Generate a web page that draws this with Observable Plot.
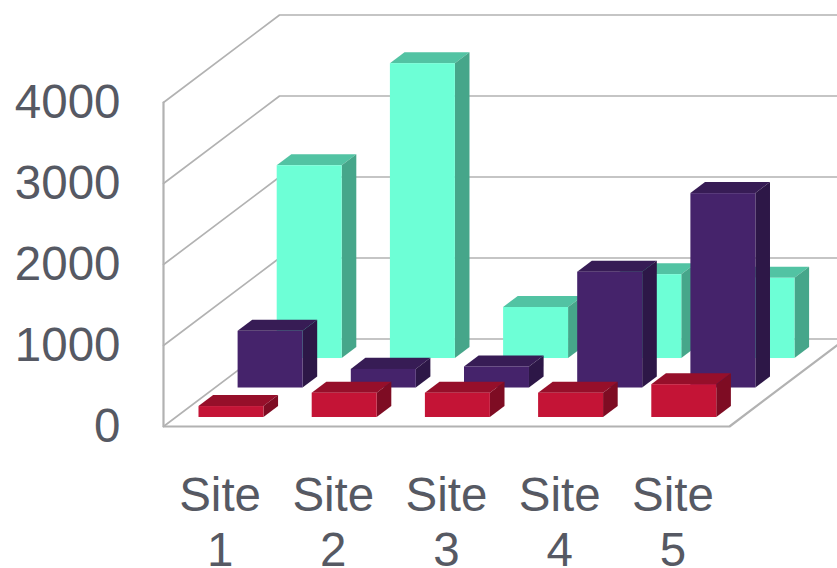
<!DOCTYPE html>
<html>
<head>
<meta charset="utf-8">
<script src="https://cdn.jsdelivr.net/npm/d3@7"></script>
<script src="https://cdn.jsdelivr.net/npm/@observablehq/plot@0.6"></script>
<style>
html,body{margin:0;padding:0;background:#fff;overflow:hidden}
svg{display:block}
</style>
</head>
<body>
<div id="chart"></div>
<script>
const sites = ["Site\n1", "Site\n2", "Site\n3", "Site\n4", "Site\n5"];
const valueTicks = [0, 1000, 2000, 3000, 4000];
const cyanValues = [2380, 3640, 630, 1035, 990];
const purpleValues = [700, 230, 260, 1430, 2400];
const redValues = [135, 300, 300, 300, 405];

// Oblique projection: one unit of depth moves a point this far in data units
const depthX = 1.025, depthY = 1080;
const gapX = 0.208, barW = 0.574, barD = 0.126;
const grey = "#b2b2b2";

const project = (i, z, v) => ({x: i + gapX + z * depthX, y: v + z * depthY});

function barMarks(values, z0, front, top, side) {
  const rows = values.map((v, i) => ({i, v}));
  const topRows = rows.flatMap(({i, v}) => [0, 1].map(t => {
    const p = project(i, z0 + t * barD, v);
    return {i, y: p.y, x1: p.x, x2: p.x + barW};
  }));
  const sideRows = rows.flatMap(({i, v}) => [0, 1].map(t => {
    const a = project(i, z0 + t * barD, 0), b = project(i, z0 + t * barD, v);
    return {i, x: a.x + barW, y1: a.y, y2: b.y};
  }));
  const frontRows = rows.map(({i, v}) => {
    const a = project(i, z0, 0), b = project(i, z0, v);
    return {x1: a.x, x2: a.x + barW, y1: a.y, y2: b.y};
  });
  return [
    Plot.areaX(topRows, {y: "y", x1: "x1", x2: "x2", z: "i", fill: top}),
    Plot.areaY(sideRows, {x: "x", y1: "y1", y2: "y2", z: "i", fill: side}),
    Plot.rect(frontRows, {x1: "x1", x2: "x2", y1: "y1", y2: "y2", fill: front, inset: 0})
  ];
}

const n = sites.length;
const gridRows = valueTicks.flatMap(v => [
  {v, x: 0, y: v},
  {v, x: depthX, y: v + depthY},
  {v, x: n + depthX, y: v + depthY}
]);
const floorRows = [
  {x: n + depthX, y: depthY},
  {x: n, y: 0},
  {x: 0, y: 0},
  {x: 0, y: valueTicks[valueTicks.length - 1]}
];

const chart = Plot.plot({
  width: 837,
  height: 568,
  marginLeft: 163,
  marginRight: 108,
  marginTop: 102,
  marginBottom: 142,
  style: {background: "#fff", fontFamily: "'Liberation Sans', Arial, sans-serif"},
  x: {domain: [0, n], axis: null},
  y: {domain: [0, 4000], axis: null},
  marks: [
    Plot.line(gridRows, {x: "x", y: "y", z: "v", stroke: grey, strokeWidth: 1.7}),
    Plot.line(floorRows, {x: "x", y: "y", stroke: grey, strokeWidth: 2.2}),
    ...barMarks(cyanValues, 0.777, "#6dffd6", "#52c3a3", "#46a68a"),
    ...barMarks(purpleValues, 0.44, "#45236b", "#371c55", "#2d1747"),
    ...barMarks(redValues, 0.103, "#c41436", "#960f2a", "#7e0c23"),
    Plot.axisY(valueTicks, {
      anchor: "left", tickSize: 0, tickPadding: 43, fontSize: 47.5, dy: 0.5,
      fill: "#565963", label: null, tickFormat: d => String(d)
    }),
    Plot.axisX(sites.map((s, i) => i + 0.5), {
      anchor: "bottom", tickSize: 0, tickPadding: 45.5, fontSize: 47.5, lineHeight: 1.158,
      fill: "#565963", label: null, tickFormat: (d, i) => sites[i]
    })
  ]
});
document.getElementById("chart").appendChild(chart);
</script>
</body>
</html>
